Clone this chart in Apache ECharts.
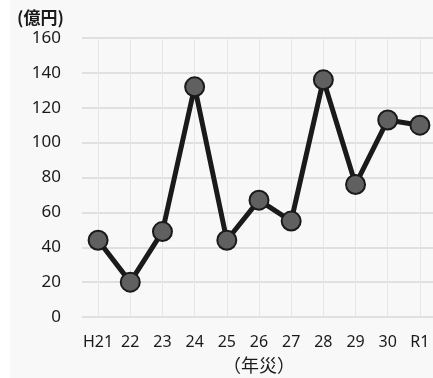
<!DOCTYPE html>
<html><head><meta charset="utf-8">
<script src="https://cdn.jsdelivr.net/npm/echarts@6/dist/echarts.min.js"></script>
<style>html,body{margin:0;padding:0;background:#fff}#c{width:433px;height:378px}</style>
</head><body><div id="c"></div>
<script>
const categories = ['H21','22','23','24','25','26','27','28','29','30','R1'];
const values = [44, 20, 49, 132, 44, 67, 55, 136, 76, 113, 110];
const yTicks = {min: 0, max: 160, interval: 20};
const yUnit = '(億円)';
const xName = '（年災）';

const chart = echarts.init(document.getElementById('c'));
const font = '"Noto Sans", "Noto Sans CJK JP", sans-serif';
chart.setOption({
  backgroundColor: '#f8f8f8',
  animation: false,
  graphic: [{type: 'rect', left: 0, top: 0, shape: {width: 10, height: 378}, style: {fill: '#ffffff'}, silent: true}],
  title: {text: yUnit, left: 12, top: 4, textStyle: {fontFamily: '"Noto Sans CJK JP", sans-serif', fontSize: 17, fontWeight: 'bold', color: '#1a1a1a'}},
  grid: {left: 82, right: -3, top: 38, bottom: 61, containLabel: false, outerBoundsMode: 'none'},
  xAxis: {
    type: 'category', data: categories, boundaryGap: true,
    name: xName, nameLocation: 'middle', nameGap: 39,
    nameTextStyle: {fontFamily: '"Noto Sans CJK JP", sans-serif', fontSize: 18, color: '#1a1a1a'},
    axisLine: {show: false}, axisTick: {show: false, alignWithLabel: true},
    axisLabel: {interval: 0, fontFamily: font, fontSize: 16, color: '#1a1a1a', margin: 17},
    splitLine: {show: true, interval: 0, alignWithLabel: true, lineStyle: {color: '#e6e6e6', width: 1}}
  },
  yAxis: {
    type: 'value', min: yTicks.min, max: yTicks.max, interval: yTicks.interval,
    axisLine: {show: false}, axisTick: {show: false},
    axisLabel: {fontFamily: font, fontSize: 17, color: '#1a1a1a', margin: 21},
    splitLine: {lineStyle: {color: '#d9d9d9', width: 1.5}}
  },
  series: [{
    type: 'line', data: values,
    symbol: 'circle', symbolSize: 19,
    lineStyle: {color: '#1a1a1a', width: 5},
    itemStyle: {color: '#606060', borderColor: '#1a1a1a', borderWidth: 2}
  }]
});
</script></body></html>
